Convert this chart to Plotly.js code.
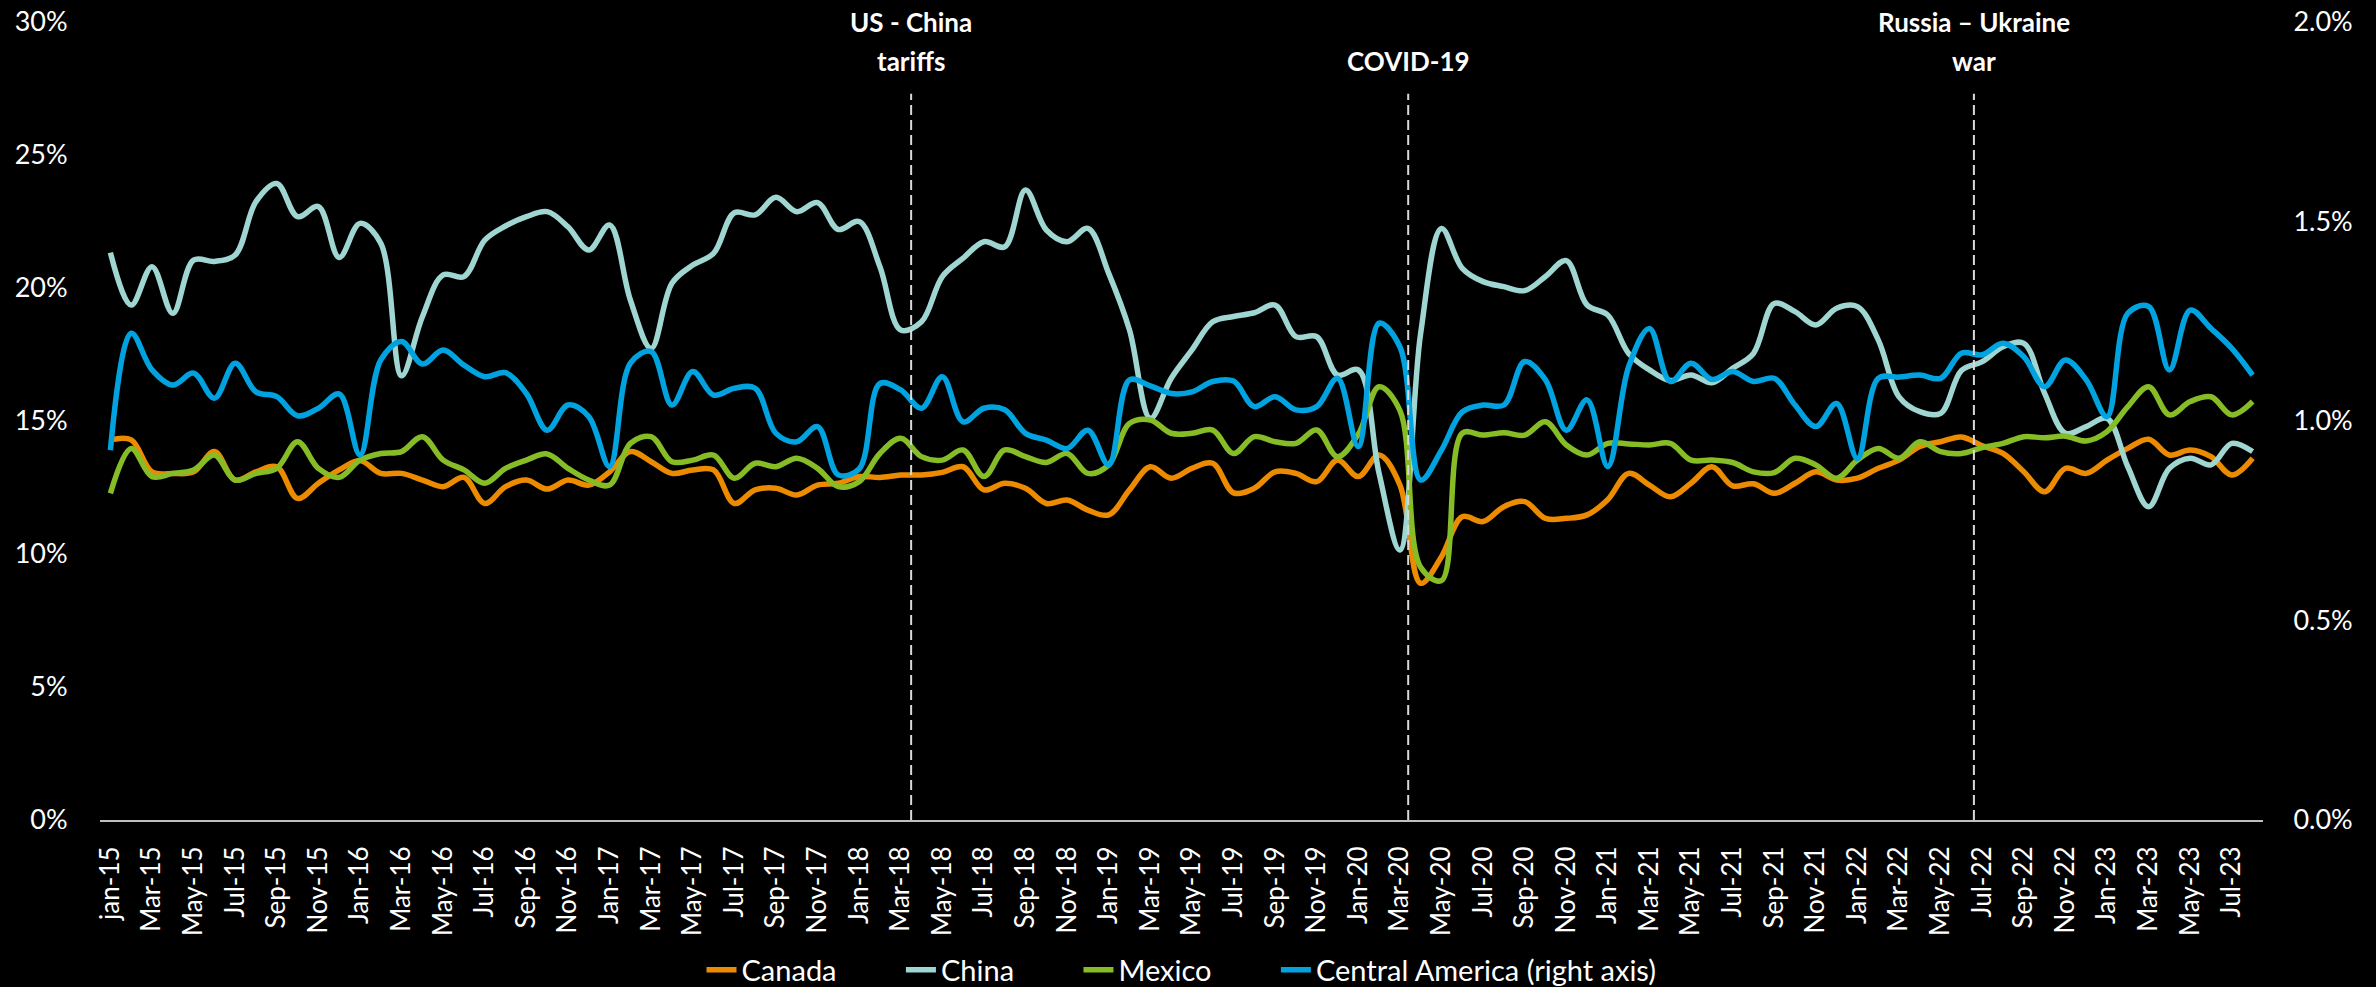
<!DOCTYPE html>
<html>
<head>
<meta charset="utf-8">
<script src="https://cdn.plot.ly/plotly-3.0.1.min.js"></script>
<style>
  html, body { margin: 0; padding: 0; background: #000; }
  #chart { width: 2376px; height: 987px; }
</style>
</head>
<body>
<div id="chart"></div>
<script>
// ---- Categories (monthly, Jan-2015 .. Aug-2023) ----
const months = [
  'jan-15','Feb-15','Mar-15','Apr-15','May-15','Jun-15','Jul-15','Aug-15','Sep-15','Oct-15','Nov-15','Dec-15',
  'Jan-16','Feb-16','Mar-16','Apr-16','May-16','Jun-16','Jul-16','Aug-16','Sep-16','Oct-16','Nov-16','Dec-16',
  'Jan-17','Feb-17','Mar-17','Apr-17','May-17','Jun-17','Jul-17','Aug-17','Sep-17','Oct-17','Nov-17','Dec-17',
  'Jan-18','Feb-18','Mar-18','Apr-18','May-18','Jun-18','Jul-18','Aug-18','Sep-18','Oct-18','Nov-18','Dec-18',
  'Jan-19','Feb-19','Mar-19','Apr-19','May-19','Jun-19','Jul-19','Aug-19','Sep-19','Oct-19','Nov-19','Dec-19',
  'Jan-20','Feb-20','Mar-20','Apr-20','May-20','Jun-20','Jul-20','Aug-20','Sep-20','Oct-20','Nov-20','Dec-20',
  'Jan-21','Feb-21','Mar-21','Apr-21','May-21','Jun-21','Jul-21','Aug-21','Sep-21','Oct-21','Nov-21','Dec-21',
  'Jan-22','Feb-22','Mar-22','Apr-22','May-22','Jun-22','Jul-22','Aug-22','Sep-22','Oct-22','Nov-22','Dec-22',
  'Jan-23','Feb-23','Mar-23','Apr-23','May-23','Jun-23','Jul-23','Aug-23'
];

// Tick labels shown on the x axis (every second month)
const tickLabels = [
  'jan-15','Mar-15','May-15','Jul-15','Sep-15','Nov-15',
  'Jan-16','Mar-16','May-16','Jul-16','Sep-16','Nov-16',
  'Jan-17','Mar-17','May-17','Jul-17','Sep-17','Nov-17',
  'Jan-18','Mar-18','May-18','Jul-18','Sep-18','Nov-18',
  'Jan-19','Mar-19','May-19','Jul-19','Sep-19','Nov-19',
  'Jan-20','Mar-20','May-20','Jul-20','Sep-20','Nov-20',
  'Jan-21','Mar-21','May-21','Jul-21','Sep-21','Nov-21',
  'Jan-22','Mar-22','May-22','Jul-22','Sep-22','Nov-22',
  'Jan-23','Mar-23','May-23','Jul-23'
];

// Series names
const seriesNames = ['Canada', 'China', 'Mexico', 'Central America (right axis)'];

// ---- Series values (percent) ----
const canada = [
  14.29,14.29,13.09,13.03,13.09,13.85,12.78,13.09,13.28,12.09,12.66,13.16,
  13.51,13.03,13.03,12.78,12.53,12.88,11.90,12.53,12.78,12.44,12.78,12.59,
  13.09,13.85,13.47,13.03,13.16,13.16,11.90,12.41,12.47,12.22,12.59,12.66,
  12.91,12.88,12.97,12.97,13.07,13.28,12.41,12.66,12.47,11.90,12.03,11.65,
  11.47,12.41,13.28,12.85,13.22,13.41,12.30,12.47,13.09,13.03,12.72,13.53,
  12.91,13.72,12.60,8.90,9.90,11.40,11.22,11.78,11.97,11.34,11.34,11.47,
  12.05,13.03,12.59,12.15,12.66,13.28,12.56,12.64,12.28,12.66,13.09,12.78,
  12.85,13.22,13.53,14.04,14.22,14.40,14.07,13.78,13.09,12.34,13.22,13.03,
  13.53,13.97,14.31,13.72,13.91,13.66,12.97,13.60
];

const china = [
  21.33,19.36,20.80,19.05,21.05,21.00,21.24,23.25,23.93,22.68,23.06,21.15,
  22.43,21.68,16.70,18.92,20.49,20.43,21.80,22.33,22.68,22.87,22.30,21.43,
  22.37,19.55,17.73,20.18,20.86,21.30,22.83,22.75,23.41,22.87,23.21,22.20,
  22.50,20.80,18.42,18.73,20.43,21.12,21.74,21.55,23.68,22.18,21.74,22.24,
  20.55,18.42,15.10,16.60,17.67,18.73,18.93,19.07,19.36,18.17,18.17,16.73,
  16.92,13.03,10.15,18.30,22.24,20.74,20.24,20.05,19.90,20.43,21.03,19.36,
  18.98,17.54,16.92,16.52,16.73,16.44,16.98,17.54,19.42,19.11,18.61,19.24,
  19.30,18.05,15.91,15.35,15.29,16.90,17.23,17.79,17.92,16.04,14.54,14.79,
  15.10,13.28,11.78,13.22,13.60,13.35,14.16,13.85
];

const mexico = [
  12.28,13.97,12.91,13.03,13.16,13.72,12.78,13.03,13.22,14.22,13.22,12.88,
  13.53,13.78,13.85,14.41,13.53,13.16,12.66,13.22,13.53,13.76,13.22,12.78,
  12.59,14.16,14.41,13.47,13.53,13.72,12.85,13.41,13.28,13.60,13.22,12.53,
  12.72,13.78,14.35,13.66,13.53,13.91,12.91,13.91,13.66,13.44,13.78,13.03,
  13.35,14.91,15.04,14.54,14.54,14.66,13.78,14.41,14.22,14.16,14.66,13.66,
  14.50,16.29,15.40,9.50,9.00,14.54,14.47,14.56,14.47,14.97,14.10,13.72,
  14.16,14.14,14.10,14.16,13.53,13.53,13.44,13.09,13.06,13.60,13.35,12.85,
  13.53,13.97,13.60,14.22,13.85,13.78,14.00,14.16,14.41,14.37,14.43,14.25,
  14.60,15.54,16.29,15.23,15.73,15.91,15.23,15.73
];

const centralAmerica = [
  0.927,1.220,1.128,1.090,1.120,1.057,1.145,1.073,1.061,1.013,1.032,1.068,
  0.915,1.153,1.199,1.143,1.178,1.140,1.111,1.121,1.069,0.977,1.040,1.011,
  0.886,1.145,1.174,1.040,1.124,1.065,1.082,1.082,0.969,0.948,0.986,0.865,
  0.880,1.094,1.078,1.032,1.111,0.998,1.032,1.028,0.969,0.952,0.931,0.977,
  0.890,1.103,1.088,1.069,1.073,1.099,1.100,1.036,1.061,1.028,1.036,1.107,
  0.936,1.245,1.186,0.852,0.927,1.023,1.040,1.040,1.149,1.103,0.977,1.053,
  0.886,1.136,1.232,1.099,1.145,1.104,1.124,1.099,1.107,1.040,0.986,1.044,
  0.906,1.107,1.110,1.115,1.107,1.170,1.166,1.195,1.161,1.086,1.153,1.103,
  1.011,1.270,1.287,1.128,1.278,1.232,1.182,1.115
];

// ---- Event markers (position on the month axis, as category index) ----
const eventX = [38.5, 62.4, 89.6];
const eventLine1 = ['US - China', '', 'Russia \u2013 Ukraine'];
const eventLine2 = ['tariffs', 'COVID-19', 'war'];

// ---- Styles ----
const FONT = 'Lato, "Open Sans", sans-serif';
const colors = ['#ED8B00', '#9FD6D2', '#86BC25', '#00A3E0'];
const LW = 5.5;
const LEGEND_PAD = '\u00A0'.repeat(8);   // extra spacing between legend entries

function lineTrace(k, y, axis) {
  const last = k === seriesNames.length - 1;
  return {
    type: 'scatter', mode: 'lines',
    name: seriesNames[k] + (last ? '' : LEGEND_PAD),
    x: months, y: y, yaxis: axis,
    line: { color: colors[k], width: LW, shape: 'spline', smoothing: 1 },
    hoverinfo: 'x+y'
  };
}

const data = [
  lineTrace(0, canada, 'y'),
  lineTrace(1, china, 'y'),
  lineTrace(2, mexico, 'y'),
  lineTrace(3, centralAmerica, 'y2')
];

const tickVals = months.filter((m, i) => i % 2 === 0);

const shapes = eventX.map(x => ({
  type: 'line', xref: 'x', yref: 'paper',
  x0: x, x1: x, y0: 0, y1: 0.91,
  line: { color: '#D9D9D9', width: 2, dash: '10px,5px' },
  layer: 'above'
}));

const annotations = [];
eventX.forEach((x, k) => {
  if (eventLine1[k]) {
    annotations.push({
      xref: 'x', yref: 'paper', x: x, y: 1.0, yanchor: 'middle', xanchor: 'center',
      text: '<b>' + eventLine1[k] + '</b>', showarrow: false,
      font: { family: FONT, size: 26, color: '#FFFFFF' }
    });
  }
  annotations.push({
    xref: 'x', yref: 'paper', x: x, y: 0.951, yanchor: 'middle', xanchor: 'center',
    text: '<b>' + eventLine2[k] + '</b>', showarrow: false,
    font: { family: FONT, size: 26, color: '#FFFFFF' }
  });
});

const layout = {
  width: 2376, height: 987,
  paper_bgcolor: '#000000', plot_bgcolor: '#000000',
  margin: { l: 100, r: 113, t: 22, b: 167, autoexpand: false },
  font: { family: FONT, color: '#FFFFFF', size: 26 },
  showlegend: true,
  legend: {
    orientation: 'h', x: 0.5, xanchor: 'center', y: -0.188, yanchor: 'middle',
    font: { family: FONT, size: 29, color: '#FFFFFF' },
    bgcolor: 'rgba(0,0,0,0)'
  },
  xaxis: {
    type: 'category', categoryorder: 'array', categoryarray: months,
    range: [-0.5, months.length - 0.5],
    tickmode: 'array', tickvals: tickVals, ticktext: tickLabels,
    tickangle: -90,
    ticks: 'outside', ticklen: 14, tickcolor: 'rgba(0,0,0,0)',
    tickfont: { family: FONT, size: 26, color: '#FFFFFF' },
    showline: true, linecolor: '#BFBFBF', linewidth: 2,
    showgrid: false, zeroline: false, fixedrange: true
  },
  yaxis: {
    range: [0, 30], dtick: 5, tick0: 0, ticksuffix: '%',
    ticks: 'outside', ticklen: 26, tickcolor: 'rgba(0,0,0,0)',
    tickfont: { family: FONT, size: 27, color: '#FFFFFF' },
    showgrid: false, zeroline: false, showline: false, fixedrange: true
  },
  yaxis2: {
    overlaying: 'y', side: 'right',
    range: [0, 2], dtick: 0.5, tick0: 0, tickformat: '.1f', ticksuffix: '%',
    ticks: 'outside', ticklen: 24, tickcolor: 'rgba(0,0,0,0)',
    tickfont: { family: FONT, size: 27, color: '#FFFFFF' },
    showgrid: false, zeroline: false, showline: false, fixedrange: true
  },
  shapes: shapes,
  annotations: annotations
};

Plotly.newPlot('chart', data, layout, { displayModeBar: false, staticPlot: true });
</script>
</body>
</html>
